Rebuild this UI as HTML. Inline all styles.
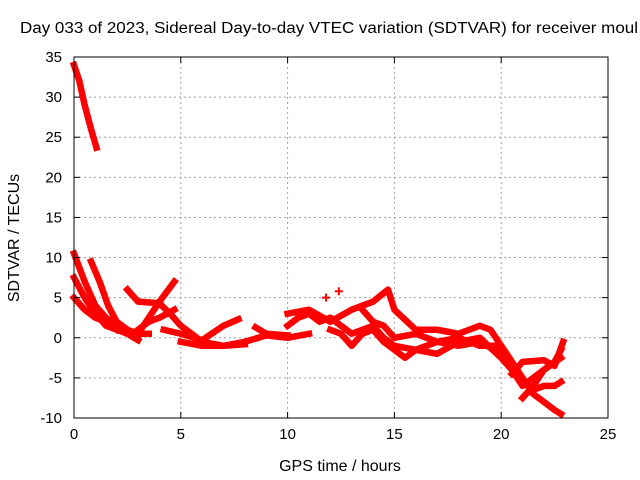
<!DOCTYPE html>
<html><head><meta charset="utf-8"><style>
body{margin:0;background:#fff}
svg{display:block;font-family:"Liberation Sans",sans-serif}
</style></head><body>
<svg id="c" width="640" height="480">
<text x="20" y="33" font-size="15.5" textLength="618" lengthAdjust="spacingAndGlyphs">Day 033 of 2023, Sidereal Day-to-day VTEC variation (SDTVAR) for receiver moul</text>
<g id="grid"></g><g id="marks"></g><g id="axes"></g>
<text x="340" y="471" font-size="16" text-anchor="middle">GPS time / hours</text>
<text transform="translate(19,238) rotate(-90)" font-size="16" text-anchor="middle">SDTVAR / TECUs</text>
</svg>
<script>
const xTicks=[0,5,10,15,20,25];
const yTicks=[-10,-5,0,5,10,15,20,25,30,35];
const t1x=[0,0.25,0.5,0.8,1.05]; const t1y=[34,32,29,26,23.7];
const t2x=[0,0.5,1,1.5,2,2.5,3]; const t2y=[10.5,7,4,2.5,1.5,0.5,0];
const t3x=[0,0.5,1,1.5,2.5,3]; const t3y=[7.5,5,3,1.5,0.5,-0.3];
const t4x=[0,0.5,1,1.5,2]; const t4y=[5,3.5,2.5,2,1];
const t5x=[0.8,1.2,1.6,2,2.5,3,3.5]; const t5y=[9.5,7,4,2,1,0.5,0.5];
const t6x=[2.5,3,4,4.5,5,5.5,6,7,8]; const t6y=[6,4.5,4.3,3,1.5,0.5,-0.5,-1,-0.8];
const t7x=[3,3.5,4,4.7]; const t7y=[0.5,2.5,4.5,7];
const t8x=[3,3.5,4,4.7]; const t8y=[1,2,2.5,3.5];
const t9x=[4.2,5,6,7,7.7]; const t9y=[1,0.5,-0.3,1.5,2.3];
const t10x=[5,6,7,8,9,10,11]; const t10y=[-0.5,-1,-1,-0.5,0.3,0,0.5];
const t11x=[8.5,9,10]; const t11y=[1.3,0.5,0.3];
const t12x=[10,10.5,11,11.5,12,12.5,13,13.5,14,14.5,15,16,17,18,19,20]; const t12y=[1.5,2.5,3,2,2.5,1.5,0.5,1,1.5,0,-1,-1.5,-0.5,-1,-0.5,-2];
const t13x=[10,11,12,13,14,14.7,15,16,17,18,19,19.5,20,21,21.5,22,22.5,22.8]; const t13y=[3,3.5,2,3.5,4.5,6,3.5,1,1,0.5,1.5,1,-1,-5,-7,-8,-9,-9.5];
const t14x=[12,12.5,13,13.5,14,14.5,15,15.5,16,17,18,19,20,20.5,21,21.5,22,22.8]; const t14y=[1,0.5,-1,0.5,1,-0.5,-1.5,-2.5,-1.5,-2,-0.5,0,-2.5,-4,-6,-5,-4,-2.5];
const t15x=[13.5,14,14.5,15,16,17,18,19,20,20.5,21,21.5,22,22.5,22.8]; const t15y=[3.5,2,1.5,0,0.5,-0.5,0,-1,-1,-3,-5.5,-6.5,-6,-6,-5.5];
const t16x=[20.5,21,22,22.5,22.9]; const t16y=[-4.5,-3,-2.8,-3.5,-0.5];
const t17x=[21,21.5,22,22.5,22.8]; const t17y=[-7.5,-6,-4,-3,-1.5];
const ptx=[11.8,12.4]; const pty=[5,5.8];
const tracks=[[t1x,t1y],[t2x,t2y],[t3x,t3y],[t4x,t4y],[t5x,t5y],[t6x,t6y],[t7x,t7y],[t8x,t8y],[t9x,t9y],[t10x,t10y],[t11x,t11y],[t12x,t12y],[t13x,t13y],[t14x,t14y],[t15x,t15y],[t16x,t16y],[t17x,t17y]];
const X0=74,X1=608,Y0=418,Y1=57;
const sx=v=>X0+(v-0)/25*(X1-X0);
const sy=v=>Y0-(v+10)/45*(Y0-Y1);
const NS='http://www.w3.org/2000/svg';
function mk(tag,attrs,parent){const e=document.createElementNS(NS,tag);for(const k in attrs)e.setAttribute(k,attrs[k]);parent.appendChild(e);return e;}
const grid=document.getElementById('grid'),axes=document.getElementById('axes'),marks=document.getElementById('marks');
xTicks.forEach(t=>{
  if(t>0&&t<25){const l=mk('line',{x1:sx(t),x2:sx(t),y1:Y1,y2:Y0,stroke:'#a0a0a0','stroke-dasharray':'2,3'},grid);
  
  }
  mk('line',{x1:sx(t),x2:sx(t),y1:Y0,y2:Y0-6,stroke:'#000'},axes);
  mk('line',{x1:sx(t),x2:sx(t),y1:Y1,y2:Y1+6,stroke:'#000'},axes);
  const tx=mk('text',{x:sx(t),y:Y0+21,'font-size':15,'text-anchor':'middle'},axes);tx.textContent=t;
  
  
});
yTicks.forEach(t=>{
  if(t>-10&&t<35){const l=mk('line',{x1:X0,x2:X1,y1:sy(t),y2:sy(t),stroke:'#a0a0a0','stroke-dasharray':'2,3'},grid);
  
  }
  mk('line',{x1:X0,x2:X0+6,y1:sy(t),y2:sy(t),stroke:'#000'},axes);
  mk('line',{x1:X1,x2:X1-6,y1:sy(t),y2:sy(t),stroke:'#000'},axes);
  const tx=mk('text',{x:X0-12,y:sy(t)+5,'font-size':15,'text-anchor':'end'},axes);tx.textContent=t;
  
  
});
const fr=mk('rect',{x:X0,y:Y1,width:X1-X0,height:Y0-Y1,fill:'none',stroke:'#000'},axes);


tracks.forEach((tr,i)=>{
  const pts=tr[0].map((x,j)=>sx(x)+','+sy(tr[1][j])).join(' ');
  const p=mk('polyline',{points:pts,fill:'none',stroke:'#f00','stroke-width':6.5,'stroke-linejoin':'round','stroke-linecap':'square'},marks);
  
  
});
ptx.forEach((x,i)=>{
  const d=`M${sx(x)-4},${sy(pty[i])}h8M${sx(x)},${sy(pty[i])-4}v8`;
  const p=mk('path',{d:d,stroke:'#f00','stroke-width':2},marks);
  
  
});
</script>
</body></html>
